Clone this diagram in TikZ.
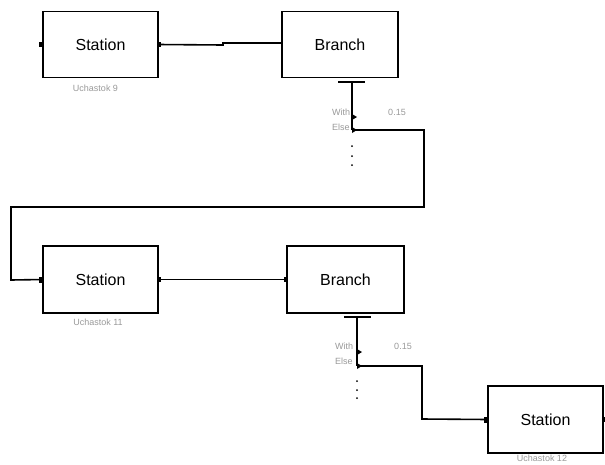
\documentclass[tikz,border=0pt]{standalone}
\usepackage{fontspec}
\setmainfont{Liberation Sans}
\usetikzlibrary{calc}
\begin{document}
\begin{tikzpicture}[x=1pt,y=-1pt,line join=miter,
  blk/.style={draw,line width=1.6pt,rectangle,inner sep=0pt,outer sep=0pt,minimum width=115pt,minimum height=66pt,font=\fontsize{16}{18}\selectfont},
  lbl/.style={text=black!40,font=\fontsize{9}{10}\selectfont,inner sep=0pt},
  wire/.style={line width=1.6pt},
  portbox/.style={fill=black},
  tri/.style={fill=black}]
\useasboundingbox (0,0) rectangle (605,464);
% blocks
\node[blk] (s9) at (100.5,44.5) {Station};
\node[blk,minimum width=116pt] (b9) at (340,44.5) {Branch};
\node[blk,minimum height=67pt] (s11) at (100.5,279.5) {Station};
\node[blk,minimum width=117pt,minimum height=67pt] (b11) at (345.5,279.5) {Branch};
\node[blk,minimum height=67pt] (s12) at (545.5,419.5) {Station};
% block labels
\node[lbl] (l9) at (95.5,88) {Uchastok 9};
\node[lbl] (l11) at (98,322) {Uchastok 11};
\node[lbl] (l12) at (542,458) {Uchastok 12};
% switch labels
\node[lbl,anchor=west] (w9) at (332,112) {With};
\node[lbl,anchor=west] (e9l) at (332,127) {Else};
\node[lbl] (v9) at (397,112) {0.15};
\node[lbl,anchor=west] (w11) at (335,346) {With};
\node[lbl,anchor=west] (e11l) at (335,361) {Else};
\node[lbl] (v11) at (403,346) {0.15};
% coordinates
\coordinate (t9) at (352,82);
\coordinate (with9) at (352,117);
\coordinate (else9) at (352,130);
\coordinate (t11) at (357,317);
\coordinate (with11) at (357,352);
\coordinate (else11) at (357,366);
% top connection
\draw[wire] (s9.east) -- (223,45) -- (223,43) -- ($(b9.west)+(0,-1.5)$);
% branch 9 output bar
\draw[wire] (338,82) -- (365,82);
\draw[wire] (t9) -- (else9);
\fill[tri] (352,114) -- (357,117) -- (352,120) -- cycle;
\fill[tri] (352,127) -- (357,130) -- (352,133) -- cycle;
\foreach \y in {146,156,165} \fill (352,\y) circle (1);
% else path to station 11
\draw[wire] (else9) -- (424,130) -- (424,207) -- (11,207) -- (11,280) -- (s11.west);
% station 11 to branch 11
\draw[wire] (s11.east) -- (b11.west);
% branch 11 output bar
\draw[wire] (344,317) -- (371,317);
\draw[wire] (t11) -- (else11);
\fill[tri] (357,349) -- (362,352) -- (357,355) -- cycle;
\fill[tri] (357,363) -- (362,366) -- (357,369) -- cycle;
\foreach \y in {381,390,398} \fill (357,\y) circle (1);
% else path to station 12
\draw[wire] (else11) -- (422,366) -- (422,419) -- (s12.west);
% port markers
\fill[portbox] ($(s9.west)+(-4,-2.5)$) rectangle ($(s9.west)+(0,2.5)$);
\fill[portbox] ($(s9.east)+(0,-2.5)$) rectangle ($(s9.east)+(3,2.5)$);
\fill[portbox] ($(s11.west)+(-4,-3)$) rectangle ($(s11.west)+(0,3)$);
\fill[portbox] ($(s11.east)+(0,-2.5)$) rectangle ($(s11.east)+(3,2.5)$);
\fill[portbox] ($(b11.west)+(-3,-2.5)$) rectangle ($(b11.west)+(0,2.5)$);
\fill[portbox] ($(s12.west)+(-4,-3)$) rectangle ($(s12.west)+(0,3)$);
\fill[portbox] ($(s12.east)+(0,-2.5)$) rectangle ($(s12.east)+(3,2.5)$);
\end{tikzpicture}
\end{document}
